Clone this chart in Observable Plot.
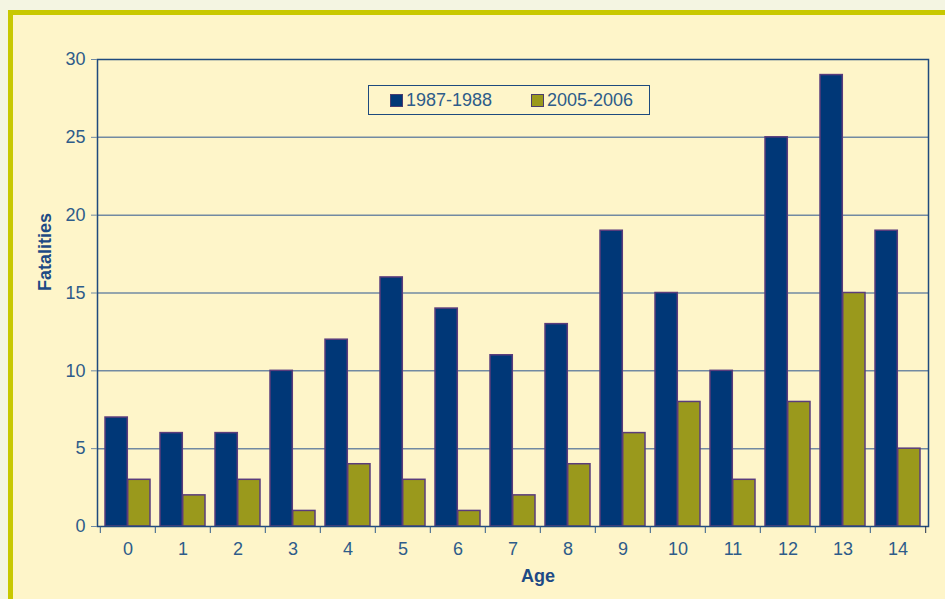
<!DOCTYPE html>
<html><head><meta charset="utf-8">
<script src="https://cdn.jsdelivr.net/npm/d3@7"></script>
<script src="https://cdn.jsdelivr.net/npm/@observablehq/plot@0.6"></script>
<style>
html,body{margin:0;padding:0;background:#f4f5e2;width:945px;height:599px;overflow:hidden;font-family:"Liberation Sans",Arial,sans-serif;}
#panel{position:absolute;left:8px;top:10px;right:0;bottom:0;background:#fef5c9;border-top:5px solid #c8c800;border-left:5px solid #c8c800;}
#chart{position:absolute;left:0;top:0;}
#legend{position:absolute;left:368px;top:85px;width:280px;height:28px;border:1px solid #1e4a7e;background:#fef5c9;}
.item{position:absolute;top:0;height:28px;display:flex;align-items:center;font-size:18px;color:#2e5c8a;}
.sw{width:11px;height:11px;border:1px solid #4a3c6e;margin-right:3px;}
</style></head>
<body>
<div id="panel"></div>
<div id="chart"></div>
<div id="legend"></div>
<script>
const ages = [0,1,2,3,4,5,6,7,8,9,10,11,12,13,14];
const seriesNames = ["1987-1988","2005-2006"];
const v1987 = [7,6,6,10,12,16,14,11,13,19,15,10,25,29,19];
const v2005 = [3,2,3,1,4,3,1,2,4,6,8,3,8,15,5];
const yTicks = [0,5,10,15,20,25,30];
const colors = ["#003777","#9a991c"];

const data = ages.flatMap((a,i)=>[
  {age:a, series:seriesNames[0], value:v1987[i]},
  {age:a, series:seriesNames[1], value:v2005[i]}
]);

const W=945,H=599,mL=97,mR=17,mT=59,mB=73;
const step=(W-mL-mR)/ages.length;
const half=step*0.82/2;
const textColor="#2e5c8a";

const chart = Plot.plot({
  width:W,height:H,marginLeft:mL,marginRight:mR,marginTop:mT,marginBottom:mB,
  style:{background:"transparent",fontFamily:"'Liberation Sans',Arial,sans-serif",fontSize:"18px",color:textColor},
  x:{type:"band",domain:ages,paddingInner:0.18,paddingOuter:0.09,axis:null},
  y:{domain:[0,30],axis:null},
  marks:[
    Plot.ruleY(yTicks.filter(t=>t>0&&t<30),{y:d=>d,stroke:"#728aa2",strokeWidth:1.5}),
    Plot.barY(data.filter(d=>d.series===seriesNames[0]),{x:"age",y:"value",fill:colors[0],stroke:"#5a3c7c",strokeWidth:1.5,insetRight:half}),
    Plot.barY(data.filter(d=>d.series===seriesNames[1]),{x:"age",y:"value",fill:colors[1],stroke:"#5a3c7c",strokeWidth:1.5,insetLeft:half}),
    Plot.frame({stroke:"#1f4a7e",strokeWidth:1.5}),
    Plot.axisY({ticks:yTicks,tickSize:6,tickPadding:6,stroke:"#6f8aa3",fill:textColor,fontSize:18,label:null}),
    Plot.axisX({ticks:ages,tickSize:0,tickPadding:16,fill:textColor,fontSize:18,label:null}),
    Plot.axisX({ticks:ages,tickSize:7,tickFormat:()=>"",dx:-step/2,stroke:"#2f5a8a",label:null}),
    Plot.axisX({ticks:[ages[ages.length-1]],tickSize:7,tickFormat:()=>"",dx:step/2,stroke:"#1f2f4e",label:null}),
    Plot.text(["Fatalities"],{frameAnchor:"left",textAnchor:"middle",lineAnchor:"middle",dx:-52,dy:-41,rotate:-90,fontWeight:"bold",fontSize:18,fill:"#1d4a85"}),
    Plot.text(["Age"],{frameAnchor:"bottom",textAnchor:"middle",lineAnchor:"middle",dx:25,dy:50,fontWeight:"bold",fontSize:18,fill:"#1d4a85"})
  ]
});
document.getElementById("chart").appendChild(chart);

const lg=document.getElementById("legend");
const lefts=[21,162];
seriesNames.forEach((s,i)=>{
  const it=document.createElement("div");
  it.className="item";
  it.style.left=lefts[i]+"px";
  const sw=document.createElement("div");
  sw.className="sw";
  sw.style.background=colors[i];
  it.appendChild(sw);
  const t=document.createElement("span");
  t.textContent=s;
  it.appendChild(t);
  lg.appendChild(it);
});
</script>
</body></html>
